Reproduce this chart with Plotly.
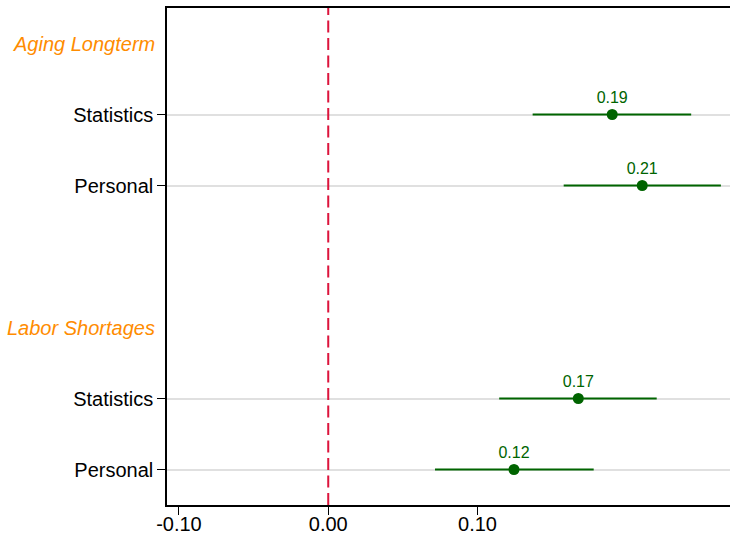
import plotly.graph_objects as go

groups = ["Aging Longterm", "Labor Shortages"]
labels = ["Statistics", "Personal", "Statistics", "Personal"]
group_of = [0, 0, 1, 1]
estimates = [0.1902, 0.2103, 0.1675, 0.1244]
ci_low = [0.1369, 0.1577, 0.1145, 0.0715]
ci_high = [0.2431, 0.2630, 0.2200, 0.1778]
value_text = ["0.19", "0.21", "0.17", "0.12"]
xtick_vals = [-0.10, 0.00, 0.10]
xtick_text = ["-0.10", "0.00", "0.10"]

# slot positions: header, row, row, blank, header, row, row
row_pos = []
header_pos = []
slot = 0
for g in range(len(groups)):
    header_pos.append(slot)
    slot += 1
    for i, gi in enumerate(group_of):
        if gi == g:
            row_pos.append(slot)
            slot += 1
    slot += 1

GREEN = "#006400"
FONT = "Liberation Sans, Arial, sans-serif"

fig = go.Figure()
fig.add_trace(go.Scatter(
    x=estimates, y=row_pos,
    mode="markers+text",
    text=value_text, textposition="top center",
    textfont=dict(color=GREEN, size=16, family=FONT),
    marker=dict(color=GREEN, size=11),
    error_x=dict(type="data", symmetric=False,
                 array=[h - e for h, e in zip(ci_high, estimates)],
                 arrayminus=[e - l for e, l in zip(estimates, ci_low)],
                 color=GREEN, thickness=2, width=0),
    showlegend=False, cliponaxis=False,
))

for g, yp in zip(groups, header_pos):
    fig.add_annotation(x=0, xref="paper", xanchor="right", xshift=-10,
                       y=yp, yref="y", text="<i>" + g + "</i>",
                       showarrow=False,
                       font=dict(color="#FF8C00", size=20, family=FONT))

fig.add_shape(type="line", x0=0, x1=0, xref="x", y0=0, y1=1, yref="paper",
              line=dict(color="#DC143C", width=2, dash="12px,5.5px"))

fig.update_layout(
    width=730, height=535,
    margin=dict(l=167, r=0, t=8, b=30, autoexpand=False),
    plot_bgcolor="white", paper_bgcolor="white",
    font=dict(family=FONT, color="black"),
    xaxis=dict(range=[-0.108, 0.2691], tickvals=xtick_vals, ticktext=xtick_text,
               ticks="outside", ticklen=8, tickwidth=1, tickcolor="black",
               showgrid=False, zeroline=False, showline=True, linecolor="black",
               linewidth=1.5, mirror=True, tickfont=dict(size=20), automargin=False,
               ticklabelstandoff=-8),
    yaxis=dict(range=[slot - 1 - 0.5, -0.5], tickvals=row_pos, ticktext=labels,
               ticks="outside", ticklen=8, tickwidth=1, tickcolor="black",
               showgrid=True, gridcolor="#e0e0e0", gridwidth=1.5,
               zeroline=False, showline=True, linecolor="black", linewidth=1.5,
               mirror=False, tickfont=dict(size=20), automargin=False),
)

fig.write_html("out.html")
